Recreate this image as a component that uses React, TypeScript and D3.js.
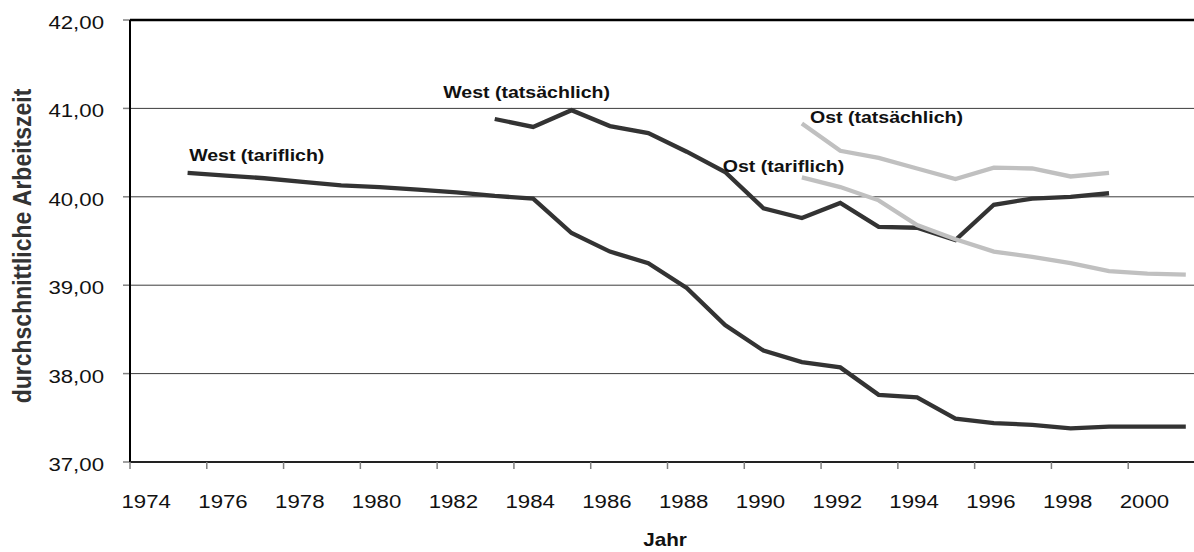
import * as d3 from "d3";

// Jahre (Kategorien)
const years = d3.range(1974, 2002);

// durchschnittliche Wochenarbeitszeit, null = kein Wert
const westTariflich: (number | null)[] = [
  null, 40.27, 40.24, 40.21, 40.17, 40.13, 40.11, 40.08, 40.05, 40.01,
  39.98, 39.59, 39.38, 39.25, 38.97, 38.55, 38.26, 38.13, 38.07, 37.76,
  37.73, 37.49, 37.44, 37.42, 37.38, 37.40, 37.40, 37.40,
];
const westTatsaechlich: (number | null)[] = [
  null, null, null, null, null, null, null, null, null, 40.88,
  40.79, 40.98, 40.80, 40.72, 40.51, 40.28, 39.87, 39.76, 39.93, 39.66,
  39.65, 39.51, 39.91, 39.98, 40.00, 40.04, null, null,
];
const ostTariflich: (number | null)[] = [
  null, null, null, null, null, null, null, null, null, null,
  null, null, null, null, null, null, null, 40.22, 40.11, 39.96,
  39.68, 39.52, 39.38, 39.32, 39.25, 39.16, 39.13, 39.12,
];
const ostTatsaechlich: (number | null)[] = [
  null, null, null, null, null, null, null, null, null, null,
  null, null, null, null, null, null, null, 40.83, 40.52, 40.44,
  40.32, 40.20, 40.33, 40.32, 40.23, 40.27, null, null,
];

const yTicks = [37, 38, 39, 40, 41, 42];
const xTickYears = d3.range(1974, 2001, 2);

const series = [
  { name: "West (tariflich)", values: westTariflich, color: "#333333" },
  { name: "West (tatsächlich)", values: westTatsaechlich, color: "#333333" },
  { name: "Ost (tariflich)", values: ostTariflich, color: "#c0c0c0" },
  { name: "Ost (tatsächlich)", values: ostTatsaechlich, color: "#c0c0c0" },
];

// Beschriftungen in Datenkoordinaten (Jahr, Wert)
const labels = [
  { text: "West (tariflich)", year: 1975.04, value: 40.4 },
  { text: "West (tatsächlich)", year: 1981.66, value: 41.114 },
  { text: "Ost (tariflich)", year: 1988.94, value: 40.284 },
  { text: "Ost (tatsächlich)", year: 1991.21, value: 40.838 },
];

const W = 1194;
const H = 552;
const SX = 1.15; // horizontale Streckung der Schrift
const font = "'Liberation Sans', sans-serif";

export default function App() {
  const margin = { left: 130, top: 20, bottom: 90 };
  const plotRight = 1205;
  const x = d3.scaleLinear().domain([1973.5, 2001.5]).range([margin.left, plotRight]);
  const y = d3.scaleLinear().domain([37, 42]).range([H - margin.bottom, margin.top]);

  const line = d3
    .line<number | null>()
    .defined((d) => d !== null)
    .x((_, i) => x(years[i]))
    .y((d) => y(d as number));

  const x0 = margin.left;
  const yBottom = y(37);

  return (
    <svg
      width={W}
      height={H}
      style={{ position: "absolute", left: 0, top: 0, display: "block", background: "#fff" }}
      fontFamily={font}
    >
      {/* Gitterlinien */}
      {yTicks.map((t) => (
        <g key={t}>
          {t > 37 && t < 42 && (
            <line x1={x0} x2={plotRight} y1={y(t)} y2={y(t)} stroke="#3c3c3c" strokeWidth={1} />
          )}
          <line x1={x0 - 7} x2={x0} y1={y(t)} y2={y(t)} stroke="#808080" strokeWidth={1.5} />
          <text
            transform={`translate(104,${y(t) + 9}) scale(1.17,1)`}
            textAnchor="end"
            fontSize={19}
            fill="#111"
          >
            {d3.format(".2f")(t).replace(".", ",")}
          </text>
        </g>
      ))}
      <line x1={x0} x2={plotRight} y1={y(42)} y2={y(42)} stroke="#000" strokeWidth={2.5} />

      {/* Achsen */}
      <line x1={x0} x2={x0} y1={y(42)} y2={yBottom} stroke="#000" strokeWidth={2} />
      <line x1={x0} x2={plotRight} y1={yBottom} y2={yBottom} stroke="#222" strokeWidth={2} />
      {xTickYears.map((yr) => (
        <g key={yr}>
          <line
            x1={x(yr - 0.5)}
            x2={x(yr - 0.5)}
            y1={yBottom}
            y2={yBottom + 7}
            stroke="#808080"
            strokeWidth={1.5}
          />
          <text
            transform={`translate(${x(yr) - 3},${yBottom + 46}) scale(1.17,1)`}
            textAnchor="middle"
            fontSize={19}
            fill="#111"
          >
            {yr}
          </text>
        </g>
      ))}

      {/* Linien */}
      {series.map((s) => (
        <path
          key={s.name}
          d={line(s.values) ?? ""}
          fill="none"
          stroke={s.color}
          strokeWidth={4.3}
          strokeLinejoin="miter"
          strokeLinecap="butt"
        />
      ))}

      {/* Reihenbeschriftungen */}
      {labels.map((l) => (
        <text
          key={l.text}
          transform={`translate(${x(l.year)},${y(l.value)}) scale(${SX},1)`}
          fontSize={17}
          fontWeight="bold"
          fill="#111"
        >
          {l.text}
        </text>
      ))}

      {/* Achsentitel */}
      <text
        transform={`translate(31,246) rotate(-90) scale(1,${SX})`}
        textAnchor="middle"
        fontSize={23}
        fontWeight="bold"
        fill="#333"
      >
        durchschnittliche Arbeitszeit
      </text>
      <text
        transform={`translate(665,546) scale(${SX},1)`}
        textAnchor="middle"
        fontSize={18}
        fontWeight="bold"
        fill="#111"
      >
        Jahr
      </text>
    </svg>
  );
}
